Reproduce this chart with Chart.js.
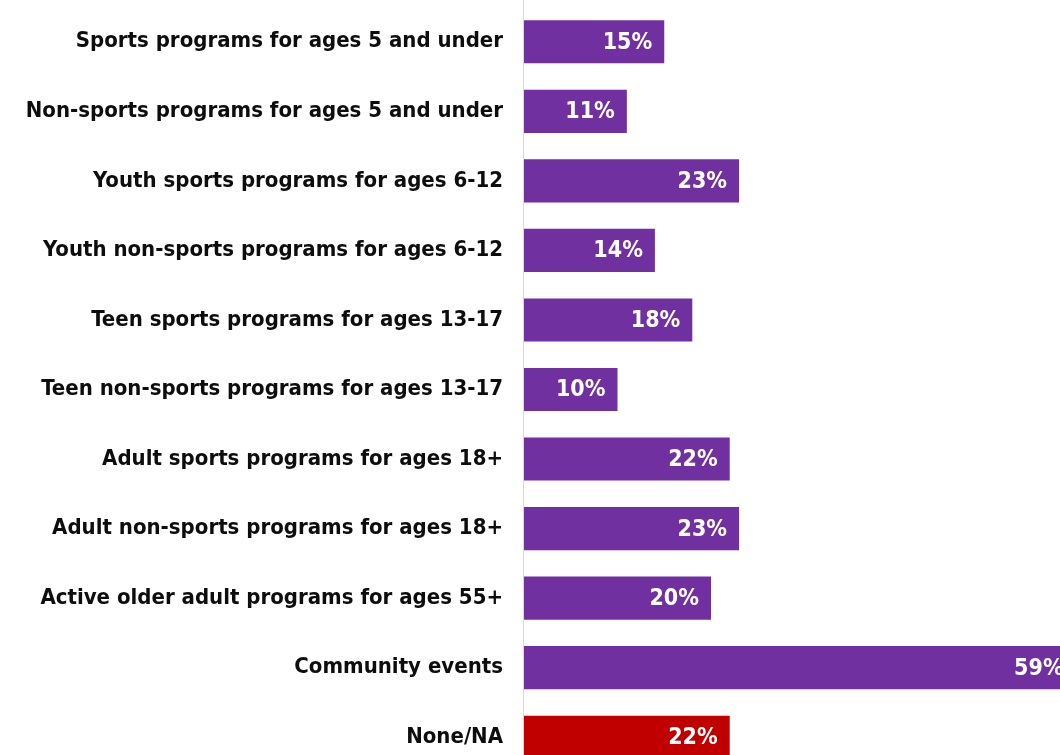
<!DOCTYPE html>
<html>
<head>
<meta charset="utf-8">
<script src="https://cdn.jsdelivr.net/npm/chart.js@4.4.1/dist/chart.umd.min.js"></script>
<style>
  html, body { margin: 0; padding: 0; background: #fff; }
  #frame { width: 1060px; height: 755px; overflow: hidden; position: relative; }
  #chart { display: block; }
</style>
</head>
<body>
<div id="frame">
  <canvas id="chart" width="1085" height="772"></canvas>
</div>
<script>
// Categories, top to bottom
const categories = [
    'Sports programs for ages 5 and under',
    'Non-sports programs for ages 5 and under',
    'Youth sports programs for ages 6-12',
    'Youth non-sports programs for ages 6-12',
    'Teen sports programs for ages 13-17',
    'Teen non-sports programs for ages 13-17',
    'Adult sports programs for ages 18+',
    'Adult non-sports programs for ages 18+',
    'Active older adult programs for ages 55+',
    'Community events',
    'None/NA'
];

// Percent of respondents
const values = [15, 11, 23, 14, 18, 10, 22, 23, 20, 59, 22];

const PURPLE = '#7030A0';
const RED = '#C00000';
const FONT = '"DejaVu Sans Condensed", "DejaVu Sans", sans-serif';

const barColors = categories.map(c => c === 'None/NA' ? RED : PURPLE);

// Axis line runs the full height of the canvas, like the original
const axisLine = {
    id: 'axisLine',
    beforeDatasetsDraw(chart) {
        const ctx = chart.ctx;
        const x = chart.scales.x.getPixelForValue(0) - 0.5;
        ctx.save();
        ctx.strokeStyle = '#d9d9d9';
        ctx.lineWidth = 1;
        ctx.beginPath();
        ctx.moveTo(x, 0);
        ctx.lineTo(x, chart.height);
        ctx.stroke();
        ctx.restore();
    }
};

// Draw the % labels inside the bar ends
const valueLabels = {
    id: 'valueLabels',
    afterDatasetsDraw(chart) {
        const ctx = chart.ctx;
        const meta = chart.getDatasetMeta(0);
        ctx.save();
        ctx.font = 'bold 23px ' + FONT;
        ctx.fillStyle = '#ffffff';
        ctx.textAlign = 'right';
        ctx.textBaseline = 'middle';
        meta.data.forEach((bar, i) => {
            ctx.fillText(values[i] + '%', bar.x - 12, bar.y + 1);
        });
        ctx.restore();
    }
};

new Chart(document.getElementById('chart'), {
    type: 'bar',
    data: {
        labels: categories,
        datasets: [{
            data: values,
            backgroundColor: barColors,
            borderWidth: 0,
            categoryPercentage: 1,
            barPercentage: 0.62
        }]
    },
    options: {
        indexAxis: 'y',
        responsive: false,
        animation: false,
        layout: { padding: { top: 7, bottom: 0, left: 0, right: 0 } },
        plugins: {
            legend: { display: false },
            tooltip: { enabled: false }
        },
        scales: {
            x: {
                display: false,
                min: 0,
                max: 60
            },
            y: {
                afterFit: (axis) => {
                    axis.width = 524;
                    axis.paddingTop = 0;
                    axis.paddingBottom = 0;
                },
                grid: { display: false, drawTicks: false },
                border: { display: false },
                ticks: {
                    color: '#0d0d0d',
                    padding: 21,
                    font: { family: FONT, size: 22, weight: 'bold' }
                }
            }
        }
    },
    plugins: [axisLine, valueLabels]
});
</script>
</body>
</html>
